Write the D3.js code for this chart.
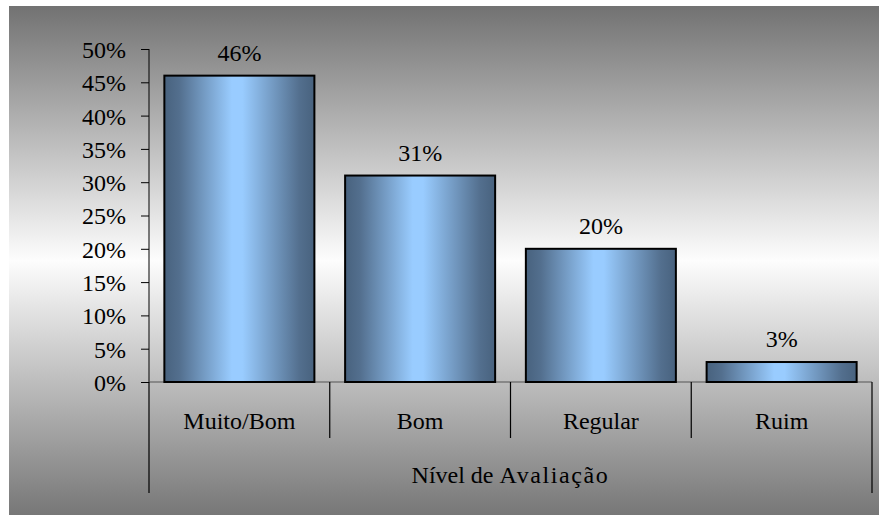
<!DOCTYPE html>
<html><head><meta charset="utf-8">
<script src="https://cdn.jsdelivr.net/npm/d3@7"></script>
<style>html,body{margin:0;padding:0;background:#fff}svg{display:block}
svg text{font-family:"Liberation Serif","Tinos","Times New Roman","Times","Nimbus Roman","Nimbus Roman No9 L","DejaVu Serif",serif !important;font-size:24px !important;fill:#000}</style>
</head><body>
<svg id="c" width="879" height="515"></svg>
<script>
const categories = ["Muito/Bom", "Bom", "Regular", "Ruim"];
const values = [0.46, 0.31, 0.20, 0.03];
const valueLabels = ["46%", "31%", "20%", "3%"];
const yTicks = [0, 0.05, 0.10, 0.15, 0.20, 0.25, 0.30, 0.35, 0.40, 0.45, 0.50];
const axisTitle = "Nível de Avaliação";

const svg = d3.select("#c");
const defs = svg.append("defs");

const bg = defs.append("linearGradient").attr("id","bg").attr("x1",0).attr("y1",0).attr("x2",0).attr("y2",1);
[[0,"#727272"],[0.5,"#fdfdfd"],[1,"#777777"]].forEach(s=>bg.append("stop").attr("offset",s[0]).attr("stop-color",s[1]));

const bar = defs.append("linearGradient").attr("id","bar").attr("x1",0).attr("y1",0).attr("x2",1).attr("y2",0);
[[0,"#48627e"],[0.1,"#536f8e"],[0.45,"#99ccff"],[0.52,"#99ccff"],[0.9,"#536f8e"],[1,"#48627e"]].forEach(s=>bar.append("stop").attr("offset",s[0]).attr("stop-color",s[1]));

svg.append("rect").attr("x",9).attr("y",6).attr("width",870).attr("height",509).attr("fill","url(#bg)");

const x = d3.scaleBand().domain(categories).range([149, 872]).paddingInner(0.17).paddingOuter(0.085);
const y = d3.scaleLinear().domain([0, 0.5]).range([382, 49]);

// y axis
const yAxis = svg.append("g").attr("transform","translate(149,0)")
  .call(d3.axisLeft(y).tickValues(yTicks).tickFormat(d3.format(".0%")).tickSize(8).tickSizeOuter(0).tickPadding(15));
yAxis.attr("font-family",null).attr("font-size",null);
yAxis.select(".domain").attr("stroke","#000").attr("d","M0,"+y(0.5)+"V"+y(0));
yAxis.selectAll(".tick line").attr("stroke","#000");
yAxis.selectAll(".tick text").attr("dy","0.35em");

// baseline
svg.append("line").attr("x1",149).attr("x2",872).attr("y1",y(0)).attr("y2",y(0)).attr("stroke","#555").attr("stroke-width",1.2);

// bars
svg.selectAll("rect.bar").data(values).join("rect").attr("class","bar")
  .attr("x",(d,i)=>x(categories[i])).attr("width",x.bandwidth())
  .attr("y",d=>y(d)).attr("height",d=>y(0)-y(d))
  .attr("fill","url(#bar)").attr("stroke","#000").attr("stroke-width",2);

svg.selectAll("text.val").data(values).join("text").attr("class","val")
  .attr("x",(d,i)=>x(categories[i])+x.bandwidth()/2).attr("y",d=>y(d)-15)
  .attr("text-anchor","middle")
  .text((d,i)=>valueLabels[i]);

// category dividers
const step = x.step();
const bounds = d3.range(categories.length+1).map(i=>149 + i*step);
svg.selectAll("line.div").data(bounds).join("line").attr("class","div")
  .attr("x1",d=>d).attr("x2",d=>d).attr("y1",y(0))
  .attr("y2",(d,i)=> (i===0||i===categories.length) ? 493 : 438)
  .attr("stroke","#000").attr("stroke-width",1.2);

svg.selectAll("text.cat").data(categories).join("text").attr("class","cat")
  .attr("x",d=>x(d)+x.bandwidth()/2).attr("y",429)
  .attr("text-anchor","middle")
  .text(d=>d);

const t = svg.append("text").attr("x",(149+872)/2).attr("y",483).attr("text-anchor","middle");
const parts = axisTitle.split(" ");
t.append("tspan").text(parts.slice(0,2).join(" ") + " ");
t.append("tspan").attr("letter-spacing","1.6px").text(parts.slice(2).join(" "));
</script>
</body></html>
